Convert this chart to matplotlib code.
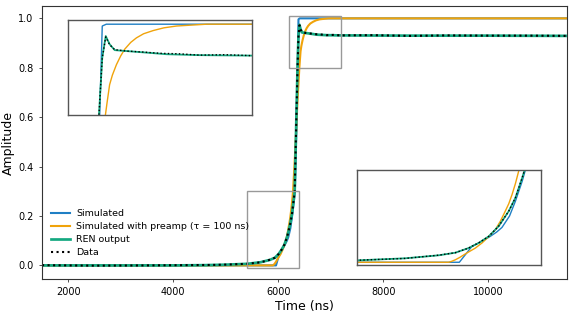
import matplotlib
matplotlib.use('Agg')
import matplotlib.pyplot as plt
from matplotlib.patches import Rectangle

# values (time in ns)
t_sim = [1500, 5957, 6026, 6062, 6120, 6160, 6189, 6230, 6262, 6299, 6317, 6345, 6371, 6385, 6407, 11500]
y_sim = [0.0, 0.0, 0.052, 0.0625, 0.082, 0.098, 0.113, 0.150, 0.198, 0.263, 0.301, 0.560, 0.800, 0.996, 1.0, 1.0]

t_pre = [1500, 5898, 5915, 5935, 5960, 5989, 6015, 6044, 6080, 6115, 6153, 6180, 6207, 6226, 6244, 6262,
         6280, 6310, 6340, 6370, 6402, 6412, 6425, 6440, 6462, 6485, 6507, 6540, 6571, 6610, 6662, 6720,
         6789, 6870, 6953, 11500]
y_pre = [0.0, 0.0, 0.003, 0.008, 0.016, 0.027, 0.036, 0.046, 0.0625, 0.082, 0.106, 0.133, 0.166, 0.190, 0.220, 0.255,
         0.296, 0.410, 0.540, 0.680, 0.800, 0.830, 0.867, 0.888, 0.911, 0.930, 0.945, 0.960, 0.970, 0.979, 0.986, 0.992,
         0.996, 0.998, 1.0, 1.0]

t_ren = [1500, 3000, 4000, 4600, 5000, 5407, 5662, 5844, 5935, 6007, 6062, 6117, 6171, 6226, 6262,
         6299, 6313, 6340, 6367, 6385, 6404, 6425, 6453, 6516, 6644, 6735, 6916, 7189, 8500, 10000, 11500]
y_ren = [0.0, 0.0, 0.0, 0.001, 0.003, 0.0063, 0.0128, 0.0225, 0.031, 0.046, 0.0625, 0.084, 0.117, 0.166, 0.209,
         0.274, 0.301, 0.550, 0.800, 0.926, 0.974, 0.956, 0.943, 0.941, 0.937, 0.934, 0.932, 0.931, 0.930, 0.930, 0.929]

t_dat = [1500, 2500, 3500, 4200, 4800, 5100, 5407, 5662, 5844, 5935, 6007, 6062, 6117, 6171, 6226, 6262,
         6299, 6313, 6340, 6367, 6385, 6404, 6425, 6453, 6516, 6600, 6700, 6800, 6916, 7050, 7189,
         7800, 8500, 9200, 10000, 10800, 11500]
y_dat = [0.001, -0.001, 0.0, 0.001, 0.002, 0.004, 0.0066, 0.0125, 0.023, 0.031, 0.046, 0.063, 0.084, 0.117, 0.166, 0.209,
         0.274, 0.301, 0.550, 0.800, 0.926, 0.972, 0.955, 0.944, 0.941, 0.939, 0.936, 0.935, 0.932, 0.933, 0.931,
         0.932, 0.929, 0.931, 0.930, 0.930, 0.929]

labels = ['Simulated', 'Simulated with preamp (τ = 100 ns)', 'REN output', 'Data']
c_blue = '#1f7fc4'
c_orange = '#f0a30a'
c_green = '#14a880'

fig = plt.figure(figsize=(5.74, 3.16), dpi=100)
ax = fig.add_axes([0.0732, 0.1171, 0.9146, 0.8639])


def draw(a, lw):
    a.plot(t_sim, y_sim, color=c_blue, lw=lw, label=labels[0])
    a.plot(t_pre, y_pre, color=c_orange, lw=lw, label=labels[1])
    a.plot(t_ren, y_ren, color=c_green, lw=lw * 1.3, label=labels[2])
    a.plot(t_dat, y_dat, color='black', lw=lw, ls=':', label=labels[3])


draw(ax, 1.5)
ax.set_xlim(1500, 11500)
ax.set_ylim(-0.055, 1.05)
ax.set_xticks([2000, 4000, 6000, 8000, 10000])
ax.set_yticks([0.0, 0.2, 0.4, 0.6, 0.8, 1.0])
ax.tick_params(labelsize=7, length=2.5, width=0.6, color='#333333')
for s in ax.spines.values():
    s.set_color('#333333')
    s.set_linewidth(0.8)
ax.set_xlabel('Time (ns)', fontsize=9, labelpad=2)
ax.set_ylabel('Amplitude', fontsize=9, labelpad=2.5)
ax.legend(loc='lower left', bbox_to_anchor=(0, 0.045), frameon=False, fontsize=6.8,
          handlelength=2.0, handletextpad=0.6, labelspacing=0.42, borderaxespad=0.6)

# zoomed insets
zooms = [([0.05, 0.6, 0.35, 0.35], (6200, 7200), (0.8, 1.01)),
         ([0.6, 0.05, 0.35, 0.35], (5400, 6400), (-0.01, 0.3))]
for pos, xl, yl in zooms:
    ins = ax.inset_axes(pos)
    draw(ins, 1.0)
    ins.set_xlim(*xl)
    ins.set_ylim(*yl)
    ins.set_xticks([])
    ins.set_yticks([])
    for s in ins.spines.values():
        s.set_color('#555555')
        s.set_linewidth(1.0)
    ax.add_patch(Rectangle((xl[0], yl[0]), xl[1] - xl[0], yl[1] - yl[0],
                           fill=False, edgecolor='#999999', lw=1.0, zorder=4))

fig.savefig('out.png', dpi=100)
